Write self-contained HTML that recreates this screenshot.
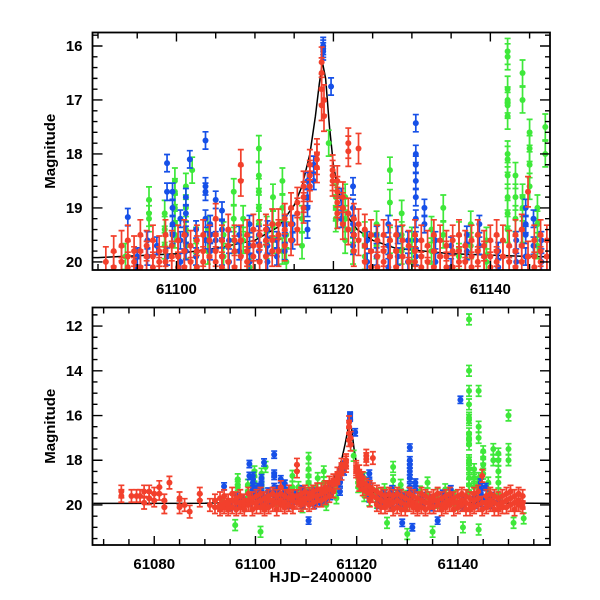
<!DOCTYPE html>
<html><head><meta charset="utf-8"><style>
html,body{margin:0;padding:0;background:#fff}
svg{display:block}
text{font-family:"Liberation Sans",sans-serif;fill:#000;font-weight:bold}
</style></head><body>
<svg id="chart" width="600" height="600" viewBox="0 0 600 600"></svg>
<script>
// ---------- data ----------
const redNightT = [61073.5,61075.5,61076.5,61077.2,61078,61079,61080,61081,61082,61083,61085,61086,61087,61089,61091,61092,
61093.0,61093.8,61094.6,61095.4,61096.2,61097.0,61097.8,61098.6,61099.4,61100.2,61101.0,61101.8,61102.6,61103.4,61104.2,61105.0,61105.8,61106.6,61107.4,61108.2,61109.0,61109.8,61110.6,61111.4,61112.2,61113.0,61113.8,61114.6,61115.4,61116.2,61117.0,61117.9,61118.5,61118.8,61119.9,61120.5,61121.2,61121.9,61122.6,61123.2,61124.0,61124.8,61125.6,61126.4,61127.2,61128.0,61128.8,61129.6,61130.4,61131.2,61132.0,61132.8,61133.6,61134.4,61135.2,61136.0,61136.8,61137.6,61138.4,61139.2,61140.0,61140.8,61141.6,61142.4,61143.2,61144.0,61144.8,61145.6,61146.4,61147.2,61148.0,61148.8,61149.6,61150.4,61151.2,61152.0,61152.8];
const redNightM = [[19.4,19.6],[19.6],[19.6],[19.6],[19.4,19.9],[19.4,19.7],[19.5,19.8],[19.2,19.5],[19.8,20.1],[19.0],[19.7,20.1],[20.0],[20.3],[19.5,19.8],[20.0],[19.8,20.1],
[19.7,20.0,20.2],[19.6,19.9,20.1],[19.8,20.0,20.2],[19.5,19.8,20.1],[19.7,19.9,20.2],[19.6,19.9,20.1],[19.8,20.0,20.2],[19.5,19.8,20.0],[19.7,19.9,20.2],[19.6,19.9,20.1],[19.5,19.8,20.1],[19.7,20.0,20.2],[19.6,19.8,20.1],[19.5,19.8,20.0],[19.6,19.9,20.2],[19.2,19.5,19.8,20.0],[19.6,19.9,20.1],[19.4,19.7,20.0],[19.6,19.8,20.1],[18.2,18.5,19.6,19.9],[19.5,19.8,20.0],[19.4,19.7,19.9],[19.5,19.7,20.0],[19.4,19.6,19.9],[19.3,19.6,19.8],[19.3,19.5,19.8],[19.2,19.4,19.7],[19.0,19.3,19.6],[18.9,19.1,19.4],[18.6,18.8,19.0],[18.2,18.4,18.6],[18.0,18.1,18.25],[16.3,16.5,16.8,17.1],[17.0,17.3],[18.3,18.4,18.5],[18.5,18.7,18.9,19.1],[18.8,19.0,19.3],[17.8,17.95,19.1,19.4],[19.2,19.5,19.8],[17.9,19.3,19.6],[19.4,19.7,20.0],[19.5,19.8,20.1],[19.6,19.9,20.1],[19.5,19.8,20.0],[19.6,19.9,20.2],[19.5,19.8,20.1],[19.6,19.9,20.2],[19.7,20.0,20.2],[19.5,19.8,20.0],[19.6,19.9,20.1],[19.7,20.0,20.2],[19.5,19.8,20.1],[19.6,19.9,20.2],[19.7,19.9,20.1],[19.6,19.8,20.1],[19.5,19.8,20.0],[19.7,20.0,20.2],[19.6,19.9,20.1],[19.5,19.8,20.0],[19.7,19.9,20.2],[19.6,19.9,20.1],[19.5,19.8,20.0],[19.6,19.9,20.2],[19.7,20.0,20.2],[19.5,19.8,20.1],[19.4,19.7,20.0],[18.7,19.9,20.2],[19.6,19.9,20.1],[19.5,19.8,20.0],[19.6,19.9,20.2],[19.7,20.0,20.2],[19.6,19.9,20.1],[19.5,19.8,20.1],[19.4,19.7,20.0],[19.6,19.9,20.2],[19.5,19.8,20.0],[19.6,19.9,20.1]];
const blueNightT = [61093.8,61095,61096.3,61097.5,61098.8,61099.5,61100.5,61101.2,61101.7,61102.5,61103.7,61104.3,61105.0,61105.8,61106.7,61108,61109.3,61110.5,61111.6,61112.8,61113.8,61114.8,61116.7,61117.5,61118.7,61119.7,61121.0,61122.5,61124.3,61125.5,61127.0,61128.2,61129.0,61129.5,61130.5,61131.0,61131.6,61133.0,61135.0,61136.0,61137.0,61138.6,61140.5,61141.0,61143.3,61144.5,61145.5,61146.5,61148];
const blueNightM = [[19.17],[19.9,20.1],[19.6,19.9],[19.7],[18.17,18.7,19.9],[18.7,19.0,19.3,19.5],[19.2,19.6,20.0],[18.8,19.1,19.5,19.8],[18.1],[19.4,19.9],[17.75,18.6,18.7,19.2,19.6],[19.3,19.5,19.8],[18.85,19.6],[19.05,19.4,19.9],[19.6,20.0],[19.5,19.8],[19.3,19.7,20.0],[19.5,19.8,20.7],[19.4,19.7,20.0],[19.6,19.9],[19.3,19.5,19.8],[19.3,19.6],[18.5,18.8,19.0,19.4],[18.2,18.5],[16.0,16.05,16.1],[16.75],[18.8,19.2],[18.6,19.0,19.3,19.7],[19.6,20.0],[19.5,19.9],[19.3,19.7,20.1],[19.5,19.9],[20.8],[19.6,20.0],[17.43,18.0,18.2,18.5,18.8,19.2,19.6,19.9],[21.0],[19.0,19.3],[19.6,20.0],[19.7,20.1],[20.7],[19.5,19.8],[19.3,19.7],[15.3],[19.8,20.1],[19.6,20.0],[19.0,19.3,19.5,19.9],[19.2,19.7],[19.6,20.0],[19.8]];
const greenNightT = [61093.5,61096,61096.5,61098.5,61099.8,61101,61101.2,61102,61102.5,61104.0,61106.0,61107.3,61108.5,61109.3,61110.5,61111.5,61112.3,61113.5,61114.0,61116.0,61119.4,61120.3,61121.5,61122.5,61124.0,61125.5,61126,61127.2,61128.7,61130.0,61132.5,61134.0,61135,61136.0,61137.5,61139.5,61141,61142.2,61143.2,61144.1,61145.0,61146.0,61147,61148.0,61150,61151,61153];
const greenNightM = [[19.9],[20.9],[18.85,19.1,19.2],[19.1,19.4,19.7],[18.5,18.7,19.0,19.3,19.5],[21.2],[18.6,19.0,19.4,19.7],[18.3],[19.6,19.9],[19.4,19.8],[19.5,19.9],[18.7,19.2,19.6],[19.2,19.6],[19.7,20.1],[17.9,18.4,18.7,19.0,19.3],[19.4,19.7],[18.8,19.3,19.6],[18.5,19.0,19.8],[19.5,20.0],[19.2,19.7],[17.8],[18.8,19.0,19.2],[18.8,19.2,19.6],[19.4,19.8],[19.5,19.9],[19.3,19.7],[20.8],[18.3,18.9,19.6],[19.1,19.5,19.8],[19.6,20.0,21.3],[19.4,19.8],[19.0,19.5],[21.2],[19.5,19.9],[19.3,19.7],[19.6,20.0],[21.0],[11.7,14.0,14.9,15.5,16.1,16.2,16.8,17.0,17.1,17.3,18.0,18.1,18.4,18.8,19.1,19.4],[18.4,18.8,19.2],[14.9,16.5,17.0,18.8,19.0,19.4,21.1],[17.6,17.9,18.2,18.6],[19.0,19.3,19.7],[17.5,18.0],[17.7,18.0,18.5,19.0,19.5],[16.0,17.5,18.0],[20.8],[20.6]];
const redErr = 0.28, blueErr = 0.16, greenErr = 0.24;
const modelT = [61068,61090,61100,61105,61110,61113,61115,61116,61117,61117.7,61118.2,61118.6,61119,61119.5,61120,61120.5,61121,61122,61123,61125,61128,61135,61145,61158];
const modelM = [19.93,19.92,19.85,19.75,19.6,19.35,18.95,18.6,18.0,17.3,16.7,16.3,16.6,17.5,18.2,18.6,18.9,19.2,19.4,19.6,19.75,19.85,19.9,19.93];
const topXTicks = [61100,61120,61140];
const topYTicks = [16,17,18,19,20];
const botXTicks = [61080,61100,61120,61140];
const botYTicks = [12,14,16,18,20];

// ---------- panels ----------
const NS = "http://www.w3.org/2000/svg";
const svg = document.getElementById('chart');
const panels = [
  {id:'top', x0:92.5, x1:550, y0:32.5, y1:270, tMin:61089.3, tMax:61147.6, mMin:15.75, mMax:20.15, xMinor:5, yMinor:0.2, xT:topXTicks, yT:topYTicks, xlab:false},
  {id:'bottom', x0:92.5, x1:550, y0:307.5, y1:545, tMin:61067.8, tMax:61158.2, mMin:11.17, mMax:21.79, xMinor:5, yMinor:0.5, xT:botXTicks, yT:botYTicks, xlab:true}
];
function mk(tag, attrs, parent){const e=document.createElementNS(NS,tag);for(const k in attrs)e.setAttribute(k,attrs[k]);(parent||svg).appendChild(e);return e;}

panels.forEach(p=>{
  const X = t => p.x0 + (t-p.tMin)/(p.tMax-p.tMin)*(p.x1-p.x0);
  const Y = m => p.y0 + (m-p.mMin)/(p.mMax-p.mMin)*(p.y1-p.y0);
  const g = mk('g',{});
  
  
  const cp = mk('clipPath',{id:'clip-'+p.id}, g);
  mk('rect',{x:p.x0,y:p.y0,width:p.x1-p.x0,height:p.y1-p.y0}, cp);
  const plot = mk('g',{'clip-path':'url(#clip-'+p.id+')'}, g);
  
  
  let d='';
  modelT.forEach((t,i)=>{d+=(i?'L':'M')+X(t).toFixed(1)+','+Y(modelM[i]).toFixed(1);});
  const ml = mk('path',{d:d,fill:'none',stroke:'#000','stroke-width':1.5}, plot);
  
  
  const series = [
    {name:'green', T:greenNightT, M:greenNightM, e:greenErr, c:'#3ee83a'},
    {name:'blue', T:blueNightT, M:blueNightM, e:blueErr, c:'#1650e8'},
    {name:'red', T:redNightT, M:redNightM, e:redErr, c:'#f2402c'}
  ];
  series.forEach(s=>{
    const sg = mk('g',{stroke:s.c,fill:s.c,'stroke-width':1.7}, plot);
    
    
    s.T.forEach((t,i)=>{
      s.M[i].forEach(m=>{
        const x=X(t), ya=Y(m-s.e), yb=Y(m+s.e), y=Y(m);
        mk('path',{d:`M${x},${ya}V${yb}M${x-3},${ya}H${x+3}M${x-3},${yb}H${x+3}`,fill:'none'}, sg);
        const c = mk('circle',{cx:x,cy:y,r:3,stroke:'none'}, sg);
        
        
      });
    });
  });
  const fr = mk('rect',{x:p.x0,y:p.y0,width:p.x1-p.x0,height:p.y1-p.y0,fill:'none',stroke:'#000','stroke-width':1.8}, g);
  
  
  let td='';
  const tStart = Math.ceil(p.tMin/p.xMinor)*p.xMinor;
  for(let t=tStart;t<=p.tMax;t+=p.xMinor){
    const x=X(t); const L = p.xT.includes(t)?9:6;
    td+=`M${x},${p.y0}v${L}M${x},${p.y1}v${-L}`;
  }
  const mStart = Math.ceil(p.mMin/p.yMinor - 1e-6)*p.yMinor;
  for(let k=0;;k++){
    const m = +(mStart + k*p.yMinor).toFixed(2); if(m>p.mMax) break;
    const y=Y(m); const L = p.yT.includes(m)?10:5;
    td+=`M${p.x0},${y}h${L}M${p.x1},${y}h${-L}`;
  }
  const tk = mk('path',{d:td,stroke:'#000','stroke-width':1.4,fill:'none'}, g);
  
  
  p.xT.forEach(t=>{
    const tx = mk('text',{x:X(t),y:p.y1+24,'text-anchor':'middle','font-size':15}, g);
    tx.textContent=t;
    
    
  });
  p.yT.forEach(m=>{
    const tx = mk('text',{x:p.x0-10,y:Y(m)+5,'text-anchor':'end','font-size':15}, g);
    tx.textContent=m;
    
    
  });
  const yl = mk('text',{x:0,y:0,'text-anchor':'middle','font-size':15,transform:`translate(55,${(p.y0+p.y1)/2}) rotate(-90)`}, g);
  yl.textContent='Magnitude';
  
  
  if(p.xlab){
    const xl = mk('text',{x:321,y:582,'text-anchor':'middle','font-size':15,'letter-spacing':'0.5'}, g);
    xl.textContent='HJD−2400000';
    
    
  }
});
</script>
</body></html>
